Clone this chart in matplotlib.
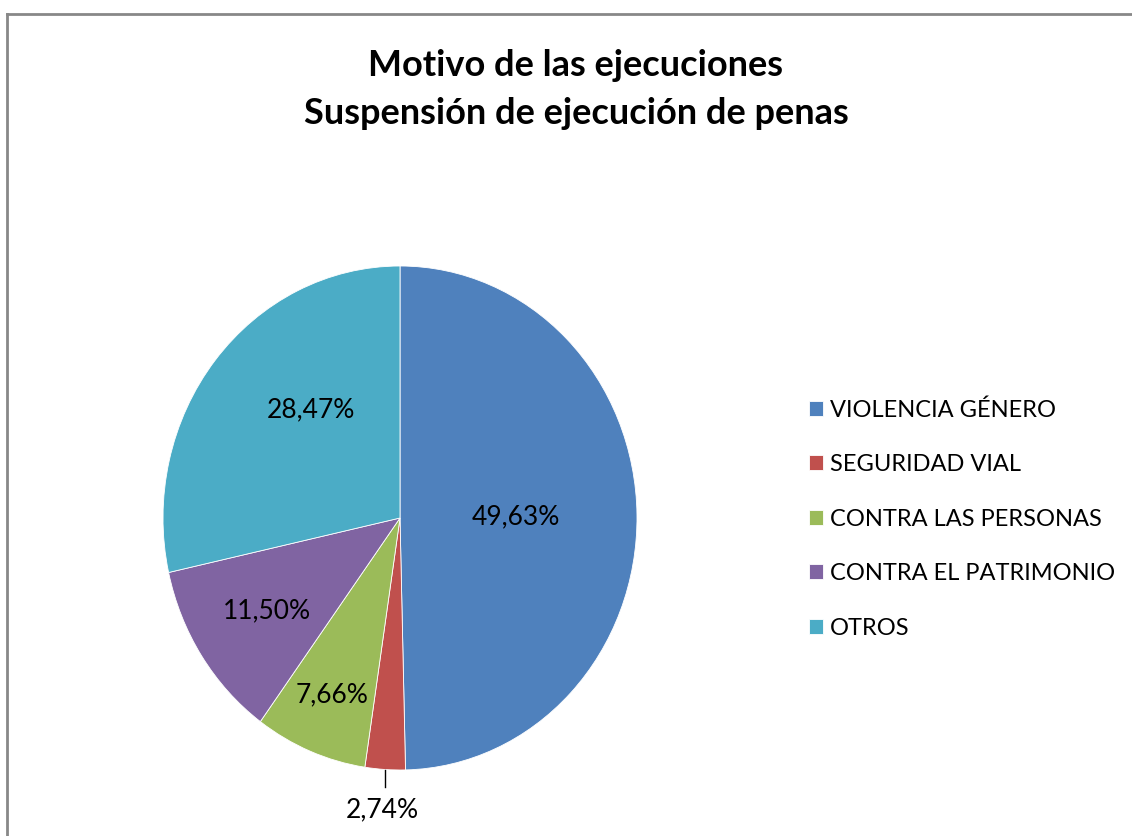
import numpy as np
import matplotlib.pyplot as plt
from matplotlib.lines import Line2D

categories = ['VIOLENCIA GÉNERO', 'SEGURIDAD VIAL', 'CONTRA LAS PERSONAS',
              'CONTRA EL PATRIMONIO', 'OTROS']
values = [49.63, 2.74, 7.66, 11.50, 28.47]
pct_labels = ['49,63%', '2,74%', '7,66%', '11,50%', '28,47%']
colors = ['#4F81BD', '#C0504D', '#9BBB59', '#8064A2', '#4BACC6']

# label placement (distance from centre, angle nudge in degrees)
label_dist = [0.49, 1.16, 0.76, 0.67, 0.57]
label_nudge = [0, 0, 0, 0, -10]

plt.rcParams['font.family'] = ['Lato', 'DejaVu Sans']

W, H = 1132, 836
fig = plt.figure(figsize=(W / 100, H / 100), dpi=100)

# outer chart border (right and bottom edges are cut off in the original)
fig.add_artist(Line2D([7 / W, 1], [1 - 14 / H, 1 - 14 / H], color='#888888', lw=2))
fig.add_artist(Line2D([7 / W, 7 / W], [0, 1 - 14 / H], color='#888888', lw=2))

# the original pie is slightly stretched vertically
cx, cy, rx, ry = 400, 518, 237, 252
ax = fig.add_axes([(cx - rx) / W, (H - cy - ry) / H, 2 * rx / W, 2 * ry / H])
wedges, _ = ax.pie(values, colors=colors, startangle=90, counterclock=False,
                   radius=1, wedgeprops=dict(edgecolor='white', linewidth=0.6))
ax.set_xlim(-1, 1)
ax.set_ylim(-1, 1)
ax.set_aspect('auto')
ax.axis('off')

for w, lab, d, nd in zip(wedges, pct_labels, label_dist, label_nudge):
    ang = np.deg2rad((w.theta1 + w.theta2) / 2 + nd)
    x, y = d * np.cos(ang), d * np.sin(ang)
    ax.text(x, y, lab, ha='center', va='center', fontsize=19, color='black', clip_on=False)
    if d > 1:
        ax.plot([np.cos(ang), np.cos(ang)], [np.sin(ang) - 0.002, np.sin(ang) - 0.068],
                color='black', lw=1, clip_on=False)

fig.text(576 / W, 1 - 65 / H, 'Motivo de las ejecuciones', ha='center', va='center',
         fontsize=26, fontweight='bold')
fig.text(576 / W, 1 - 113 / H, 'Suspensión de ejecución de penas', ha='center', va='center',
         fontsize=26, fontweight='bold')

fig.legend(wedges, categories, loc='center left', bbox_to_anchor=(797 / W, 1 - 519 / H),
           frameon=False, fontsize=17, handlelength=0.6, handleheight=0.6,
           handletextpad=0.3, labelspacing=1.42, borderpad=0)

fig.savefig('out.png', dpi=100)
